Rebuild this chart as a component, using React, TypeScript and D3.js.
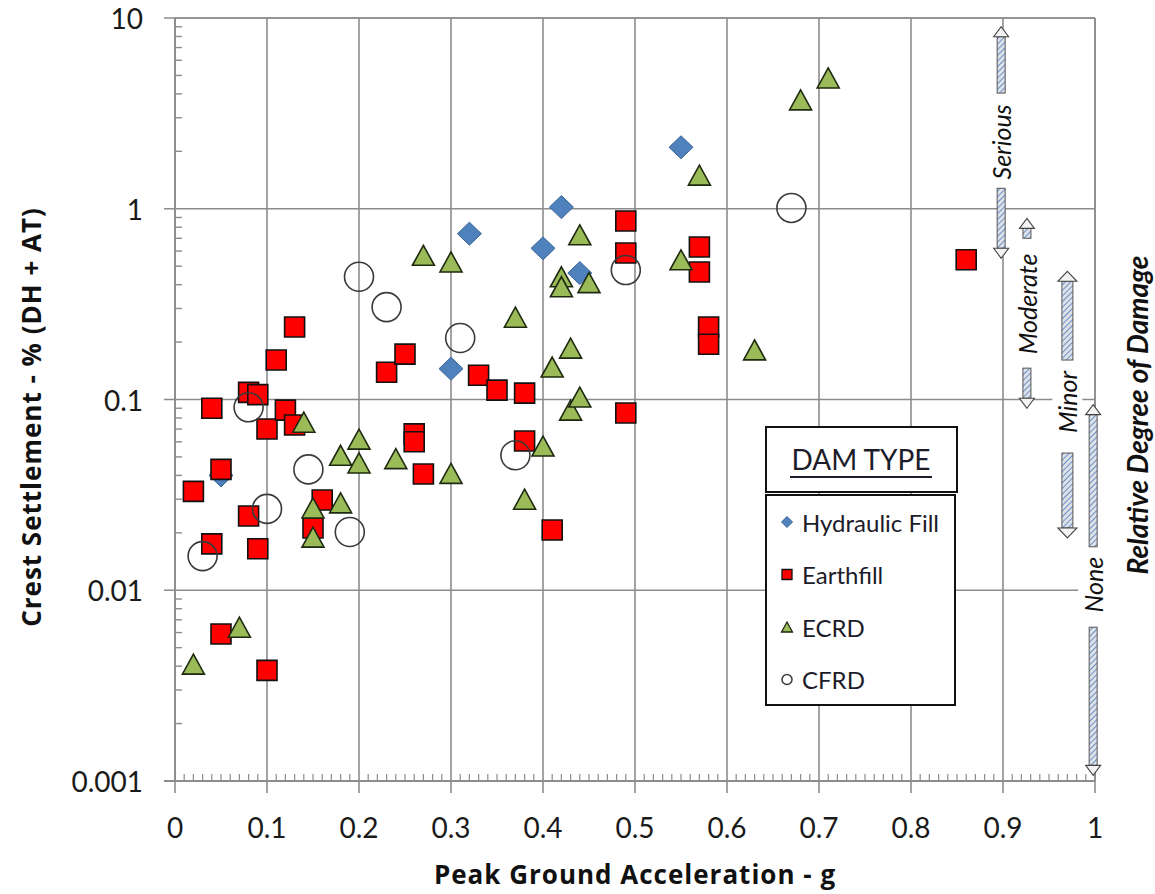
import React from "react";
import * as d3 from "d3";

const W = 1155;
const H = 894;

// ---------- data ----------
const xTicks = [0, 0.1, 0.2, 0.3, 0.4, 0.5, 0.6, 0.7, 0.8, 0.9, 1];
const xTickLabels = ["0", "0.1", "0.2", "0.3", "0.4", "0.5", "0.6", "0.7", "0.8", "0.9", "1"];
const yTicks = [0.001, 0.01, 0.1, 1, 10];
const yTickLabels = ["0.001", "0.01", "0.1", "1", "10"];

const hydraulicFill = [
  { x: 0.05, y: 0.04 }, { x: 0.30, y: 0.145 }, { x: 0.32, y: 0.74 }, { x: 0.40, y: 0.62 },
  { x: 0.42, y: 1.02 }, { x: 0.44, y: 0.46 }, { x: 0.55, y: 2.1 },
];

const earthfill = [
  { x: 0.02, y: 0.033 }, { x: 0.04, y: 0.09 }, { x: 0.04, y: 0.0175 }, { x: 0.05, y: 0.043 },
  { x: 0.05, y: 0.0059 }, { x: 0.08, y: 0.109 }, { x: 0.09, y: 0.106 }, { x: 0.08, y: 0.0245 },
  { x: 0.09, y: 0.0165 }, { x: 0.10, y: 0.07 }, { x: 0.10, y: 0.0038 }, { x: 0.11, y: 0.161 },
  { x: 0.12, y: 0.088 }, { x: 0.13, y: 0.0735 }, { x: 0.13, y: 0.24 }, { x: 0.15, y: 0.0212 },
  { x: 0.16, y: 0.0297 }, { x: 0.23, y: 0.139 }, { x: 0.25, y: 0.173 }, { x: 0.26, y: 0.066 },
  { x: 0.26, y: 0.06 }, { x: 0.27, y: 0.0407 }, { x: 0.33, y: 0.134 }, { x: 0.35, y: 0.112 },
  { x: 0.38, y: 0.108 }, { x: 0.38, y: 0.0606 }, { x: 0.41, y: 0.0207 }, { x: 0.49, y: 0.863 },
  { x: 0.49, y: 0.586 }, { x: 0.49, y: 0.085 }, { x: 0.57, y: 0.63 }, { x: 0.57, y: 0.466 },
  { x: 0.58, y: 0.24 }, { x: 0.58, y: 0.195 }, { x: 0.86, y: 0.54 },
];

const ecrd = [
  { x: 0.02, y: 0.0041 }, { x: 0.07, y: 0.0064 }, { x: 0.14, y: 0.076 }, { x: 0.15, y: 0.027 },
  { x: 0.15, y: 0.019 }, { x: 0.18, y: 0.051 }, { x: 0.18, y: 0.0287 }, { x: 0.20, y: 0.062 },
  { x: 0.20, y: 0.0465 }, { x: 0.24, y: 0.049 }, { x: 0.27, y: 0.57 }, { x: 0.30, y: 0.526 },
  { x: 0.30, y: 0.041 }, { x: 0.37, y: 0.27 }, { x: 0.38, y: 0.03 }, { x: 0.40, y: 0.057 },
  { x: 0.41, y: 0.148 }, { x: 0.42, y: 0.44 }, { x: 0.42, y: 0.39 }, { x: 0.43, y: 0.186 },
  { x: 0.43, y: 0.088 }, { x: 0.44, y: 0.73 }, { x: 0.44, y: 0.103 }, { x: 0.45, y: 0.41 },
  { x: 0.55, y: 0.54 }, { x: 0.57, y: 1.5 }, { x: 0.63, y: 0.182 }, { x: 0.68, y: 3.72 },
  { x: 0.71, y: 4.85 },
];

const cfrd = [
  { x: 0.03, y: 0.0151 }, { x: 0.08, y: 0.091 }, { x: 0.10, y: 0.0267 }, { x: 0.145, y: 0.043 },
  { x: 0.19, y: 0.0202 }, { x: 0.20, y: 0.44 }, { x: 0.23, y: 0.305 }, { x: 0.31, y: 0.21 },
  { x: 0.37, y: 0.051 }, { x: 0.49, y: 0.477 }, { x: 0.67, y: 1.01 },
];

const legendLabels = ["Hydraulic Fill", "Earthfill", "ECRD", "CFRD"];

// damage bands: x position (g), arrow top/bottom and gap (settlement %)
const damageBands = [
  { label: "Serious", x: 0.898, top: 9.0, bottom: 0.55, gapTop: 4.04, gapBottom: 1.28, textAt: 2.24, thick: false },
  { label: "Moderate", x: 0.926, top: 0.89, bottom: 0.09, gapTop: 0.70, gapBottom: 0.146, textAt: 0.317, thick: false },
  { label: "Minor", x: 0.970, top: 0.47, bottom: 0.0188, gapTop: 0.161, gapBottom: 0.0524, textAt: 0.097, thick: true },
  { label: "None", x: 0.998, top: 0.094, bottom: 0.00107, gapTop: 0.0169, gapBottom: 0.0064, textAt: 0.0107, thick: false },
];

// ---------- layout ----------
const X0 = 175, X1 = 1095, Y0 = 781, Y1 = 18;
const FONT = "Lato, 'Open Sans', sans-serif";
const TITLE_FONT = "'Open Sans', Lato, sans-serif";
const GRID = "#8c8c8c";

const x = d3.scaleLinear().domain([0, 1]).range([X0, X1]);
const y = d3.scaleLog().domain([0.001, 10]).range([Y0, Y1]);

const squarePath = (s: number) => `M${-s / 2},${-s / 2}h${s}v${s}h${-s}Z`;
const trianglePath = (w: number, h: number) => `M0,${-h / 2}L${w / 2},${h / 2}L${-w / 2},${h / 2}Z`;
const diamondPath = (w: number, h: number) => `M0,${-h / 2}L${w / 2},0L0,${h / 2}L${-w / 2},0Z`;

function arrowParts(cx: number, tipY: number, endY: number, up: boolean, sw: number, hw: number, hl: number) {
  const d = up ? 1 : -1;
  const baseY = tipY + d * hl;
  const head = `M${cx},${tipY}L${cx + hw},${baseY}L${cx + sw},${baseY}L${cx - sw},${baseY}L${cx - hw},${baseY}Z`;
  const y1 = Math.min(baseY, endY), y2 = Math.max(baseY, endY);
  return { head, shaft: { x: cx - sw, y: y1, w: sw * 2, h: y2 - y1 } };
}

export default function App() {
  const minorY: number[] = [];
  for (let e = -3; e < 1; e++) for (let m = 2; m <= 9; m++) minorY.push(m * Math.pow(10, e));
  const minorX = d3.range(1, 100).filter((i) => i % 10 !== 0).map((i) => i / 100);

  return (
    <svg width={W} height={H} style={{ position: "absolute", left: 0, top: 0, background: "#fff" }} fontFamily={FONT}>
      <defs>
        <pattern id="hatch" width="4" height="4" patternUnits="userSpaceOnUse" patternTransform="rotate(45)">
          <rect width="4" height="4" fill="#dde1e8" />
          <line x1="0" y1="0" x2="0" y2="4" stroke="#5f86c0" strokeWidth="1.8" />
        </pattern>
      </defs>
      <rect x={0} y={0} width={W} height={H} fill="#fff" />

      {/* grid */}
      {xTicks.map((t) => (
        <line key={"gx" + t} x1={x(t)} x2={x(t)} y1={Y1} y2={Y0 + 12} stroke={GRID} strokeWidth={1.6} />
      ))}
      {yTicks.map((t) => (
        <line key={"gy" + t} x1={X0 - 11} x2={X1} y1={y(t)} y2={y(t)} stroke={GRID} strokeWidth={1.6} />
      ))}
      {/* minor ticks */}
      {minorY.map((t, i) => (
        <line key={"my" + i} x1={X0} x2={X0 + 7} y1={y(t)} y2={y(t)} stroke={GRID} strokeWidth={1.4} />
      ))}
      {minorX.map((t, i) => (
        <line key={"mx" + i} x1={x(t)} x2={x(t)} y1={Y0} y2={Y0 - 7} stroke={GRID} strokeWidth={1.2} />
      ))}

      {/* plot border */}
      <line x1={X0} x2={X1} y1={Y1} y2={Y1} stroke={GRID} strokeWidth={1.6} />
      <line x1={X1} x2={X1} y1={Y1} y2={Y0} stroke={GRID} strokeWidth={1.6} />
      <line x1={X0} x2={X0} y1={Y1} y2={Y0} stroke={GRID} strokeWidth={1.8} />
      <line x1={X0 - 11} x2={X1} y1={Y0} y2={Y0} stroke={GRID} strokeWidth={1.8} />

      {/* tick labels */}
      {xTicks.map((t, i) => (
        <text key={"xl" + t} x={x(t)} y={838} textAnchor="middle" fontSize={28} fill="#1a1a1a">
          {xTickLabels[i]}
        </text>
      ))}
      {yTicks.map((t, i) => (
        <text key={"yl" + t} x={143} y={y(t)} textAnchor="end" dominantBaseline="central" fontSize={28} fill="#1a1a1a">
          {yTickLabels[i]}
        </text>
      ))}

      {/* axis titles */}
      <text x={635} y={884} textAnchor="middle" fontSize={26} fontWeight="bold" letterSpacing={1} fill="#111" fontFamily={TITLE_FONT}>
        Peak Ground Acceleration - g
      </text>
      <text transform={`translate(31,417) rotate(-90)`} textAnchor="middle" dominantBaseline="central" fontSize={26} fontWeight="bold" letterSpacing={1} fill="#111" fontFamily={TITLE_FONT}>
        Crest Settlement - % (DH + AT)
      </text>
      <text transform={`translate(1137,415) rotate(-90)`} textAnchor="middle" dominantBaseline="central" fontSize={28} fontWeight="bold" fontStyle="italic" fill="#111">
        Relative  Degree of Damage
      </text>

      {/* damage arrows */}
      {damageBands.map((b) => {
        const cx = x(b.x);
        const sw = b.thick ? 5.5 : 4;
        const hw = b.thick ? 9.5 : 7.5;
        const hl = 10;
        const upper = arrowParts(cx, y(b.top), y(b.gapTop), true, sw, hw, hl);
        const lower = arrowParts(cx, y(b.bottom), y(b.gapBottom), false, sw, hw, hl);
        const ty = y(b.textAt);
        return (
          <g key={b.label}>
            <rect x={cx - 15} y={y(b.gapTop)} width={30} height={y(b.gapBottom) - y(b.gapTop)} fill="#fff" />
            {[upper, lower].map((p, i) => (
              <g key={i}>
                <rect x={p.shaft.x} y={p.shaft.y} width={p.shaft.w} height={p.shaft.h} fill="url(#hatch)" stroke="#555" strokeWidth={1} />
                <path d={p.head} fill="#f4f4f4" stroke="#444" strokeWidth={1.1} />
              </g>
            ))}
            <text transform={`translate(${cx},${ty}) rotate(-90)`} textAnchor="middle" dominantBaseline="central" fontSize={25} fontStyle="italic" fill="#111">
              {b.label}
            </text>
          </g>
        );
      })}

      {/* data */}
      <g>
        {hydraulicFill.map((d, i) => (
          <path key={"h" + i} transform={`translate(${x(d.x)},${y(d.y)})`} d={diamondPath(24, 23)} fill="#4F81BD" stroke="#3A6496" strokeWidth={1} />
        ))}
        {earthfill.map((d, i) => (
          <path key={"e" + i} transform={`translate(${x(d.x)},${y(d.y)})`} d={squarePath(20)} fill="#FF0000" stroke="#111" strokeWidth={1.6} />
        ))}
        {ecrd.map((d, i) => (
          <path key={"c" + i} transform={`translate(${x(d.x)},${y(d.y)})`} d={trianglePath(22, 20)} fill="#9BBB59" stroke="#1e2a10" strokeWidth={1.6} />
        ))}
        {cfrd.map((d, i) => (
          <circle key={"f" + i} cx={x(d.x)} cy={y(d.y)} r={14.5} fill="none" stroke="#3a3a3a" strokeWidth={1.6} />
        ))}
      </g>

      {/* legend */}
      <g>
        <rect x={766} y={427} width={191} height={65} fill="#fff" stroke="#111" strokeWidth={2} />
        <text x={861} y={470} textAnchor="middle" fontSize={28} fill="#1c1c2a">DAM TYPE</text>
        <line x1={790} x2={932} y1={477} y2={477} stroke="#1c1c2a" strokeWidth={2} />
        <rect x={766} y={495} width={189} height={210} fill="#fff" stroke="#111" strokeWidth={2} />
        {legendLabels.map((lab, i) => {
          const ly = 522 + i * 52.5;
          const mx = 787;
          let marker;
          if (i === 0) marker = <path transform={`translate(${mx},${ly})`} d={diamondPath(11, 11)} fill="#4F81BD" stroke="#3A6496" />;
          else if (i === 1) marker = <path transform={`translate(${mx},${ly})`} d={squarePath(10)} fill="#FF0000" stroke="#111" strokeWidth={1.3} />;
          else if (i === 2) marker = <path transform={`translate(${mx},${ly})`} d={trianglePath(11, 10)} fill="#9BBB59" stroke="#1e2a10" strokeWidth={1.3} />;
          else marker = <circle cx={mx} cy={ly} r={5} fill="none" stroke="#3a3a3a" strokeWidth={1.5} />;
          return (
            <g key={lab}>
              {marker}
              <text x={802} y={ly} dominantBaseline="central" fontSize={24} fill="#1c1c2a">{lab}</text>
            </g>
          );
        })}
      </g>
    </svg>
  );
}
